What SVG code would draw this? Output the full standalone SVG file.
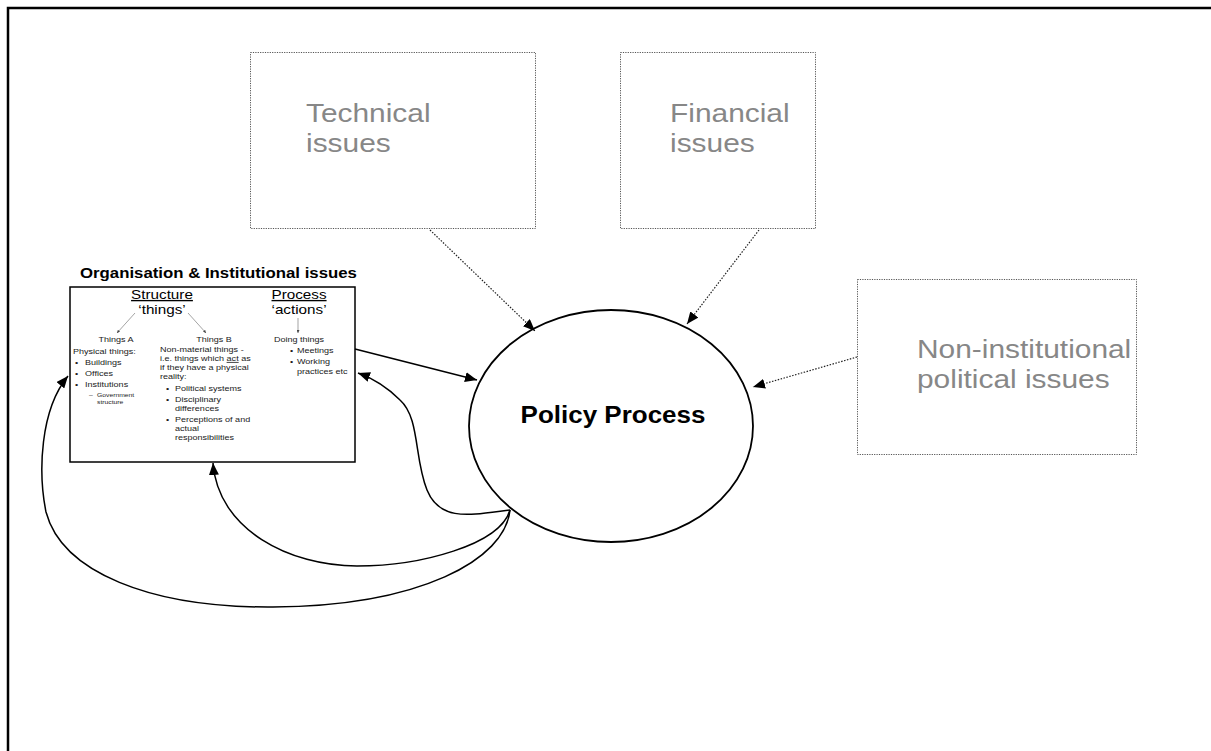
<svg xmlns="http://www.w3.org/2000/svg" width="1211" height="751" viewBox="0 0 1211 751">
<style>
.frame{fill:none;stroke:#000;stroke-width:2.5}
.dbox{fill:none;stroke:#555;stroke-width:1;stroke-dasharray:1.2 1.2}
.big{font-family:"Liberation Sans",Arial,sans-serif;font-size:26px;fill:#878787}
.dot{fill:none;stroke:#222;stroke-width:1.2;stroke-dasharray:1.5 1.5}
.sol{fill:none;stroke:#000;stroke-width:1.5}
.t8{font-family:"Liberation Sans",Arial,sans-serif;font-size:8px;fill:#1a1a1a}
.t6{font-family:"Liberation Sans",Arial,sans-serif;font-size:6px;fill:#1a1a1a}
.t13{font-family:"Liberation Sans",Arial,sans-serif;font-size:13.5px;fill:#000}
.thin{stroke:#666;stroke-width:0.6;fill:none}
</style>
<defs>
<marker id="ah" viewBox="0 0 12 10" refX="12" refY="5" markerWidth="12" markerHeight="10" markerUnits="userSpaceOnUse" orient="auto">
<path d="M0,0 L12,5 L0,10 z" fill="#000"/>
</marker>
<marker id="sm" viewBox="0 0 4 4" refX="4" refY="2" markerWidth="3" markerHeight="3" markerUnits="userSpaceOnUse" orient="auto">
<path d="M0,0 L4,2 L0,4 z" fill="#444"/>
</marker>
</defs>
<rect width="1211" height="751" fill="#fff"/>
<path class="frame" d="M8,760 V8 H1230"/>

<g id="technical">
<rect class="dbox" x="250.5" y="52.5" width="285" height="176"/>
<g transform="translate(306,122) scale(1.15,1)"><text class="big" x="0" y="0">Technical</text><text class="big" x="0" y="30">issues</text></g>
</g>

<g id="financial">
<rect class="dbox" x="620.5" y="52.5" width="195" height="176"/>
<g transform="translate(670,122) scale(1.15,1)"><text class="big" x="0" y="0">Financial</text><text class="big" x="0" y="30">issues</text></g>
</g>

<g id="noninst">
<rect class="dbox" x="857.5" y="279.5" width="279" height="175"/>
<g transform="translate(917,358) scale(1.15,1)"><text class="big" x="0" y="0">Non-institutional</text><text class="big" x="0" y="30">political issues</text></g>
</g>

<g id="policy">
<ellipse cx="611" cy="426" rx="142" ry="116" fill="none" stroke="#000" stroke-width="1.8"/>
<g transform="translate(613,423) scale(1.13,1)"><text x="0" y="0" text-anchor="middle" font-family="'Liberation Sans',Arial,sans-serif" font-size="23" font-weight="bold" fill="#000">Policy Process</text></g>
</g>

<g id="organisation">
<g transform="translate(80,278) scale(1.12,1)"><text x="0" y="0" font-family="'Liberation Sans',Arial,sans-serif" font-size="15" font-weight="bold" fill="#000">Organisation &amp; Institutional issues</text></g>
<rect x="70" y="287" width="285" height="175" fill="none" stroke="#000" stroke-width="1.5"/>
<line class="thin" x1="135" y1="313" x2="117" y2="333" marker-end="url(#sm)"/>
<line class="thin" x1="188" y1="313" x2="206" y2="333" marker-end="url(#sm)"/>
<line class="thin" x1="298" y1="318" x2="298" y2="333" marker-end="url(#sm)"/>
<g transform="translate(70,0) scale(1.13,1)">
<text class="t13" x="81.4" y="299" text-anchor="middle" text-decoration="underline">Structure</text>
<text class="t13" x="81.4" y="314" text-anchor="middle">‘things’</text>
<text class="t13" x="202.7" y="299" text-anchor="middle" text-decoration="underline">Process</text>
<text class="t13" x="202.7" y="314" text-anchor="middle">‘actions’</text>

<text class="t8" x="40.7" y="342" text-anchor="middle">Things A</text>
<text class="t8" x="2.7" y="354">Physical things:</text>
<text class="t8" x="4.4" y="365">•</text><text class="t8" x="13.3" y="365">Buildings</text>
<text class="t8" x="4.4" y="376">•</text><text class="t8" x="13.3" y="376">Offices</text>
<text class="t8" x="4.4" y="387">•</text><text class="t8" x="13.3" y="387">Institutions</text>
<text class="t6" x="16.8" y="397">–</text><text class="t6" x="23.9" y="397">Government</text>
<text class="t6" x="23.9" y="404">structure</text>

<text class="t8" x="127.4" y="342" text-anchor="middle">Things B</text>
<text class="t8" x="79.6" y="352">Non-material things -</text>
<text class="t8" x="79.6" y="361">i.e. things which <tspan text-decoration="underline">act</tspan> as</text>
<text class="t8" x="79.6" y="370">if they have a physical</text>
<text class="t8" x="79.6" y="379">reality:</text>
<text class="t8" x="85" y="391">•</text><text class="t8" x="92.9" y="391">Political systems</text>
<text class="t8" x="85" y="402">•</text><text class="t8" x="92.9" y="402">Disciplinary</text>
<text class="t8" x="92.9" y="411">differences</text>
<text class="t8" x="85" y="422">•</text><text class="t8" x="92.9" y="422">Perceptions of and</text>
<text class="t8" x="92.9" y="431">actual</text>
<text class="t8" x="92.9" y="440">responsibilities</text>

<text class="t8" x="180.5" y="342">Doing things</text>
<text class="t8" x="194.7" y="353">•</text><text class="t8" x="200.9" y="353">Meetings</text>
<text class="t8" x="194.7" y="364">•</text><text class="t8" x="200.9" y="364">Working</text>
<text class="t8" x="200.9" y="374">practices etc</text>
</g>
</g>

<g id="connectors">
<path class="dot" d="M430,230 L535,331" marker-end="url(#ah)"/>
<path class="dot" d="M759,230 L687,324" marker-end="url(#ah)"/>
<path class="dot" d="M857,357 L753,387" marker-end="url(#ah)"/>
<path class="sol" d="M355,349 L477,380" marker-end="url(#ah)"/>
<path class="sol" d="M510,510 C470,515 440,522 427,490 C414,458 420,418 400,400 C388,388 372,378 358,373" marker-end="url(#ah)"/>
<path class="sol" d="M510,510 C500,545 420,566 357,566 C290,566 218,530 213,463" marker-end="url(#ah)"/>
<path class="sol" d="M510,510 C505,560 420,606 273,607 C150,608 62,572 46,512 C38,472 40,410 68,376" marker-end="url(#ah)"/>
</g>
</svg>
